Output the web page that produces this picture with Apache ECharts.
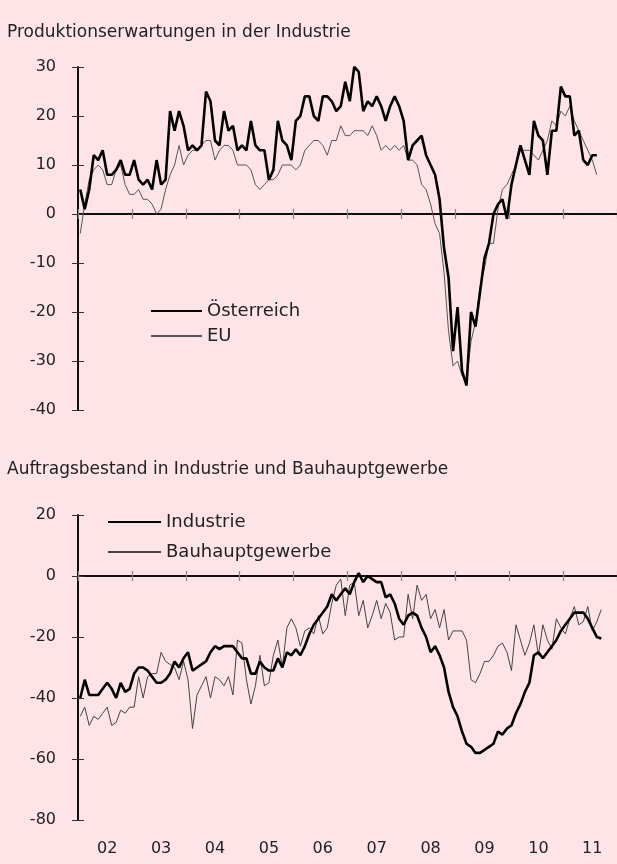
<!DOCTYPE html>
<html>
<head>
<meta charset="utf-8">
<script src="https://cdn.jsdelivr.net/npm/echarts@6/dist/echarts.min.js"></script>
<style>
  html, body { margin: 0; padding: 0; background: #fee4e6; }
  #main { width: 617px; height: 864px; }
</style>
</head>
<body>
<div id="main"></div>
<script>
// monthly data, Jan 2002 onwards
var yearLabels = ['02', '03', '04', '05', '06', '07', '08', '09', '10', '11']

var oesterreich = [5, 1, 5, 12, 11, 13, 8, 8, 9, 11, 8, 8,
  11, 7, 6, 7, 5, 11, 6, 7, 21, 17, 21, 18,
  13, 14, 13, 14, 25, 23, 15, 14, 21, 17, 18, 13,
  14, 13, 19, 14, 13, 13, 7, 9, 19, 15, 14, 11,
  19, 20, 24, 24, 20, 19, 24, 24, 23, 21, 22, 27,
  23, 30, 29, 21, 23, 22, 24, 22, 19, 22, 24, 22,
  19, 11, 14, 15, 16, 12, 10, 8, 3, -7, -13, -28,
  -19, -32, -35, -20, -23, -16, -9, -6, 0, 2, 3, -1,
  6, 10, 14, 11, 8, 19, 16, 15, 8, 17, 17, 26,
  24, 24, 16, 17, 11, 10, 12, 12]

var eu = [-4, 2, 7, 9, 10, 9, 6, 6, 9, 10, 6, 4,
  4, 5, 3, 3, 2, 0, 1, 5, 8, 10, 14, 10,
  12, 13, 13, 14, 15, 15, 11, 13, 14, 14, 13, 10,
  10, 10, 9, 6, 5, 6, 7, 7, 8, 10, 10, 10,
  9, 10, 13, 14, 15, 15, 14, 12, 15, 15, 18, 16,
  16, 17, 17, 17, 16, 18, 16, 13, 14, 13, 14, 13,
  14, 11, 11, 10, 6, 5, 2, -2, -4, -12, -24, -31,
  -30, -33, -34, -26, -22, -15, -11, -6, -6, 1, 5, 6,
  8, 10, 13, 13, 13, 12, 11, 13, 15, 19, 18, 21,
  20, 22, 19, 17, 15, 13, 11, 8]

var industrie = [-40, -34, -39, -39, -39, -37, -35, -37, -40, -35, -38, -37,
  -32, -30, -30, -31, -33, -35, -35, -34, -32, -28, -30, -27,
  -25, -31, -30, -29, -28, -25, -23, -24, -23, -23, -23, -25,
  -27, -27, -32, -32, -28, -30, -31, -31, -27, -30, -25, -26,
  -24, -26, -23, -19, -16, -14, -12, -10, -6, -8, -6, -4,
  -6, -2, 1, -2, 0, -1, -2, -2, -7, -6, -9, -14,
  -16, -13, -12, -13, -17, -20, -25, -23, -26, -30, -38, -43,
  -46, -51, -55, -56, -58, -58, -57, -56, -55, -51, -52, -50,
  -49, -45, -42, -38, -35, -26, -25, -27, -25, -23, -21, -18,
  -16, -14, -12, -12, -12, -14, -17, -20, -20.5]

var bau = [-46, -43, -49, -46, -47, -45, -43, -49, -48, -44, -45, -43,
  -43, -33, -40, -33, -32, -32, -25, -28, -29, -30, -34, -28,
  -34, -50, -39, -36, -33, -40, -33, -34, -36, -33, -39, -21,
  -22, -34, -42, -36, -26, -36, -35, -26, -21, -30, -17, -14,
  -17, -23, -18, -17, -19, -13, -19, -17, -9, -3, -1, -13,
  -3, -2, -13, -8, -17, -13, -8, -14, -9, -12, -21, -20,
  -20, -6, -14, -3, -8, -6, -14, -11, -17, -11, -21, -18,
  -18, -18, -21, -34, -35, -32, -28, -28, -26, -23, -22, -25,
  -31, -16, -21, -26, -22, -16, -26, -16, -21, -24, -14, -17,
  -19, -14, -10, -16, -15, -10, -18, -15, -11]

var months = []
yearLabels.forEach(function (y) {
  for (var m = 1; m <= 12; m++) months.push(y + '/' + (m < 10 ? '0' + m : m))
})

var FONT = 'DejaVu Sans'
var TXT = '#222'

var chartDom = document.getElementById('main')
var myChart = echarts.init(chartDom)

function yearTick (i) { return i % 12 === 0 }

function xBase (grid, inside) {
  return {
    type: 'category',
    gridIndex: grid,
    position: 'bottom',
    data: months,
    boundaryGap: true,
    axisLine: { show: true, onZero: true, onZeroAxisIndex: grid * 2, lineStyle: { color: '#000', width: 1.5 } },
    axisTick: { show: true, inside: inside, length: 5, interval: yearTick, lineStyle: { color: '#888', width: 1.2 } },
    axisLabel: { show: false },
    splitLine: { show: false }
  }
}

function yBase (grid, min, max, interval, inside) {
  return {
    type: 'value',
    gridIndex: grid,
    position: 'left',
    min: min,
    max: max,
    interval: interval,
    axisLine: { show: true, onZero: false, lineStyle: { color: '#000', width: 1.5 } },
    axisTick: { show: true, inside: inside, length: 6, lineStyle: { color: '#333', width: 1 } },
    axisLabel: { show: !inside, margin: 22, color: TXT, fontSize: 16, fontFamily: FONT },
    splitLine: { show: false }
  }
}

var xLabels = xBase(1, false)
xLabels.axisLine = { show: false, onZero: false }
xLabels.axisTick = { show: false }
xLabels.axisLabel = {
  show: true,
  interval: function (i) { return i % 12 === 6 },
  formatter: function (v) { return v.slice(0, 2) },
  margin: 21,
  color: TXT,
  fontSize: 16,
  fontFamily: FONT
}

var legendText = { fontSize: 18, color: TXT, fontFamily: FONT }

var option = {
  backgroundColor: '#fee4e6',
  animation: false,
  title: [
    { text: 'Produktionserwartungen in der Industrie', left: 7, top: 24, padding: 0,
      textStyle: { fontSize: 17, fontWeight: 'normal', color: TXT, fontFamily: FONT } },
    { text: 'Auftragsbestand in Industrie und Bauhauptgewerbe', left: 7, top: 461, padding: 0,
      textStyle: { fontSize: 17, fontWeight: 'normal', color: TXT, fontFamily: FONT } }
  ],
  legend: [
    { data: ['Österreich', 'EU'], orient: 'vertical', left: 150, top: 302, padding: 0,
      itemWidth: 51, itemHeight: 14, itemGap: 7, selectedMode: false,
      itemStyle: { opacity: 0 }, textStyle: legendText },
    { data: ['Industrie', 'Bauhauptgewerbe'], orient: 'vertical', left: 107, top: 513, padding: 0,
      itemWidth: 53, itemHeight: 14, itemGap: 12, selectedMode: false,
      itemStyle: { opacity: 0 }, textStyle: legendText }
  ],
  grid: [
    { left: 78, top: 67, width: 544, height: 343 },
    { left: 78, top: 515, width: 544, height: 305 }
  ],
  xAxis: [xBase(0, false), xBase(0, true), xBase(1, false), xBase(1, true), xLabels],
  yAxis: [
    yBase(0, -40, 30, 10, false), yBase(0, -40, 30, 10, true),
    yBase(1, -80, 20, 20, false), yBase(1, -80, 20, 20, true)
  ],
  series: [
    { name: 'EU', type: 'line', xAxisIndex: 0, yAxisIndex: 0, data: eu,
      symbol: 'none', lineStyle: { color: '#555', width: 1 }, itemStyle: { color: '#555' } },
    { name: 'Österreich', type: 'line', xAxisIndex: 0, yAxisIndex: 0, data: oesterreich,
      symbol: 'none', lineStyle: { color: '#000', width: 2.6 }, itemStyle: { color: '#000' } },
    { name: 'Bauhauptgewerbe', type: 'line', xAxisIndex: 2, yAxisIndex: 2, data: bau,
      symbol: 'none', lineStyle: { color: '#444', width: 1 }, itemStyle: { color: '#444' } },
    { name: 'Industrie', type: 'line', xAxisIndex: 2, yAxisIndex: 2, data: industrie,
      symbol: 'none', lineStyle: { color: '#000', width: 2.6 }, itemStyle: { color: '#000' } }
  ]
}

option && myChart.setOption(option)
</script>
</body>
</html>
